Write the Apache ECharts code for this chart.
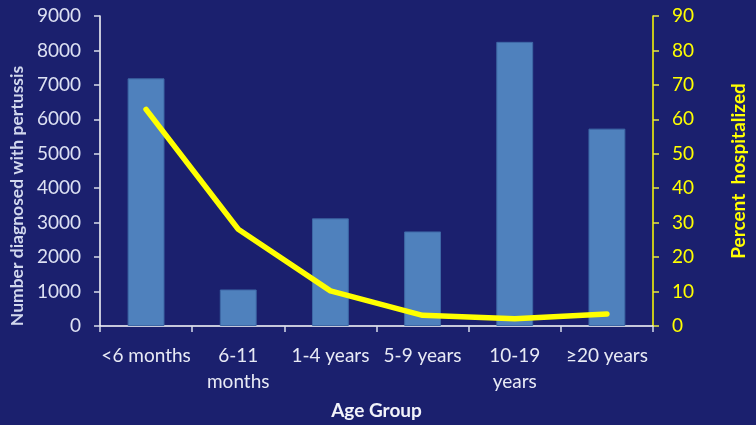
<!DOCTYPE html>
<html>
<head>
<meta charset="utf-8">
<script src="https://cdn.jsdelivr.net/npm/echarts@6/dist/echarts.min.js"></script>
<style>
html,body{margin:0;padding:0;background:#1B206E;}
#c{width:756px;height:425px;}
</style>
</head>
<body>
<div id="c"></div>
<script>
const categories = ['<6 months', '6-11\nmonths', '1-4 years', '5-9 years', '10-19\nyears', '≥20 years'];
const diagnosed = [7190, 1060, 3125, 2745, 8250, 5730];
const percentHospitalized = [62.9, 28.1, 10.2, 3.1, 2.1, 3.5];
const leftTicks = [0, 9000, 1000];
const rightTicks = [0, 90, 10];

const chart = echarts.init(document.getElementById('c'), null, {renderer: 'canvas'});
const FONT = 'Lato';
chart.setOption({
  backgroundColor: '#1B206E',
  animation: false,
  grid: {left: 99, right: 91, top: 16, bottom: 97},
  xAxis: {
    type: 'category',
    data: categories,
    name: 'Age Group',
    nameLocation: 'middle',
    nameGap: 75,
    nameTextStyle: {color: '#F2F3FA', fontFamily: FONT, fontSize: 19, fontWeight: 'bold'},
    axisLine: {lineStyle: {color: '#FFFFFF', width: 1.5}},
    axisTick: {show: true, length: 6, lineStyle: {color: '#D8DBEA', width: 1.5}},
    axisLabel: {interval: 0, color: '#E8EAF5', fontFamily: FONT, fontSize: 19, lineHeight: 26, margin: 17}
  },
  yAxis: [{
    type: 'value',
    min: leftTicks[0], max: leftTicks[1], interval: leftTicks[2],
    name: 'Number diagnosed with pertussis',
    nameLocation: 'middle',
    nameGap: 64,
    nameTextStyle: {color: '#D2D8EE', fontFamily: FONT, fontSize: 17.5, fontWeight: 'bold', padding: [0, 50, 0, 0]},
    axisLine: {show: true, lineStyle: {color: '#FFFFFF', width: 1.5}},
    axisTick: {show: true, length: 6, lineStyle: {color: '#D8DBEA', width: 1.5}},
    axisLabel: {color: '#DDE1F3', fontFamily: FONT, fontSize: 19, margin: 19, formatter: v => String(v)},
    splitLine: {show: false}
  }, {
    type: 'value',
    min: rightTicks[0], max: rightTicks[1], interval: rightTicks[2],
    name: 'Percent  hospitalized',
    nameLocation: 'middle',
    nameGap: 76,
    nameRotate: 90,
    nameTextStyle: {color: '#FFFF00', fontFamily: FONT, fontSize: 19, fontWeight: 'bold'},
    position: 'right',
    axisLine: {show: true, lineStyle: {color: '#FFFF00', width: 1.5}},
    axisTick: {show: true, length: 6, lineStyle: {color: '#E8E840', width: 1.5}},
    axisLabel: {color: '#FFFF00', fontFamily: FONT, fontSize: 19, margin: 19},
    splitLine: {show: false}
  }],
  series: [{
    type: 'bar',
    data: diagnosed,
    yAxisIndex: 0,
    barWidth: '40%',
    itemStyle: {color: '#4F81BD', borderColor: '#3E68A6', borderWidth: 1}
  }, {
    type: 'line',
    data: percentHospitalized,
    yAxisIndex: 1,
    symbol: 'none',
    lineStyle: {color: '#FFFF00', width: 5.5, cap: 'round', join: 'round'}
  }]
});
</script>
</body>
</html>
